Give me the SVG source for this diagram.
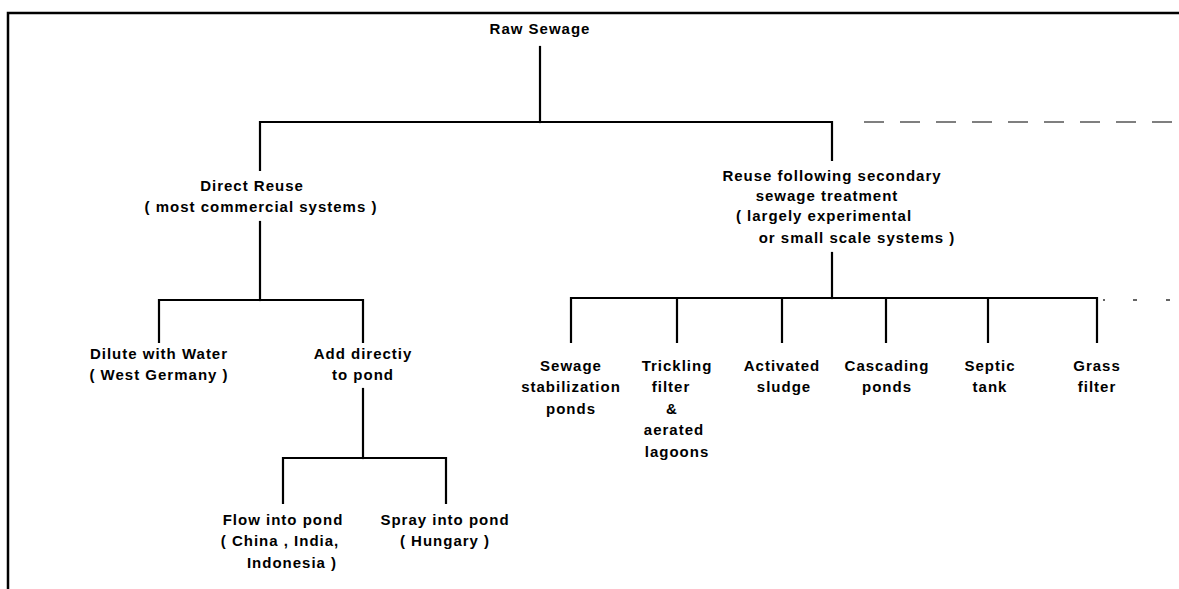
<svg xmlns="http://www.w3.org/2000/svg" width="1179" height="589" viewBox="0 0 1179 589">
<style>
  text { font-family: "Liberation Sans", Arial, sans-serif; font-weight: bold; font-size: 15px; fill: #000; text-anchor: middle; letter-spacing: 1px; }
  .ln { stroke: #000; stroke-width: 2.2; fill: none; stroke-linecap: square; }
  .frame { stroke: #000; stroke-width: 2.5; fill: none; }
  .dash { stroke: #555; stroke-width: 1.5; fill: none; stroke-dasharray: 20 16; }
  .tick { stroke: #333; stroke-width: 1.5; }
</style>
<rect width="1179" height="589" fill="#fff"/>
<g id="frame">
  <path class="frame" d="M8 589 V13 H1179"/>
</g>
<g id="connectors">
  <path class="ln" d="M540 47 V122"/>
  <path class="ln" d="M260 170 V122 H832 V160"/>
  <path class="dash" d="M864 122 H1179"/>
  <path class="ln" d="M260 222 V300"/>
  <path class="ln" d="M159 342 V300 H363 V342"/>
  <path class="ln" d="M363 389 V458"/>
  <path class="ln" d="M283 503 V458 H446 V503"/>
  <path class="ln" d="M832 253 V298"/>
  <path class="ln" d="M571 342 V298 H1097 V342"/>
  <path class="ln" d="M677 298 V342 M782 298 V342 M886 298 V342 M988 298 V342"/>
  <path class="tick" d="M1103 300 h2 M1133 300 h4 M1166 300 h4"/>
</g>
<g id="raw-sewage"><text x="540" y="34">Raw Sewage</text></g>
<g id="direct-reuse">
  <text x="252" y="191">Direct Reuse</text>
  <text x="261" y="212">( most commercial systems )</text>
</g>
<g id="secondary-reuse">
  <text x="832" y="181">Reuse following secondary</text>
  <text x="827" y="201">sewage treatment</text>
  <text x="824" y="221">( largely experimental</text>
  <text x="857" y="243">or small scale systems )</text>
</g>
<g id="dilute">
  <text x="159" y="359">Dilute with Water</text>
  <text x="159" y="380">( West Germany )</text>
</g>
<g id="add-directly">
  <text x="363" y="359">Add directiy</text>
  <text x="363" y="380">to pond</text>
</g>
<g id="flow">
  <text x="283" y="525">Flow into pond</text>
  <text x="280" y="546">( China , India,</text>
  <text x="292" y="568">Indonesia )</text>
</g>
<g id="spray">
  <text x="445" y="525">Spray into pond</text>
  <text x="445" y="546">( Hungary )</text>
</g>
<g id="stabilization">
  <text x="571" y="371">Sewage</text>
  <text x="571" y="392">stabilization</text>
  <text x="571" y="414">ponds</text>
</g>
<g id="trickling">
  <text x="677" y="371">Trickling</text>
  <text x="671" y="392">filter</text>
  <text x="672" y="414">&amp;</text>
  <text x="674" y="435">aerated</text>
  <text x="677" y="457">lagoons</text>
</g>
<g id="activated">
  <text x="782" y="371">Activated</text>
  <text x="784" y="392">sludge</text>
</g>
<g id="cascading">
  <text x="887" y="371">Cascading</text>
  <text x="887" y="392">ponds</text>
</g>
<g id="septic">
  <text x="990" y="371">Septic</text>
  <text x="990" y="392">tank</text>
</g>
<g id="grass">
  <text x="1097" y="371">Grass</text>
  <text x="1097" y="392">filter</text>
</g>
</svg>
